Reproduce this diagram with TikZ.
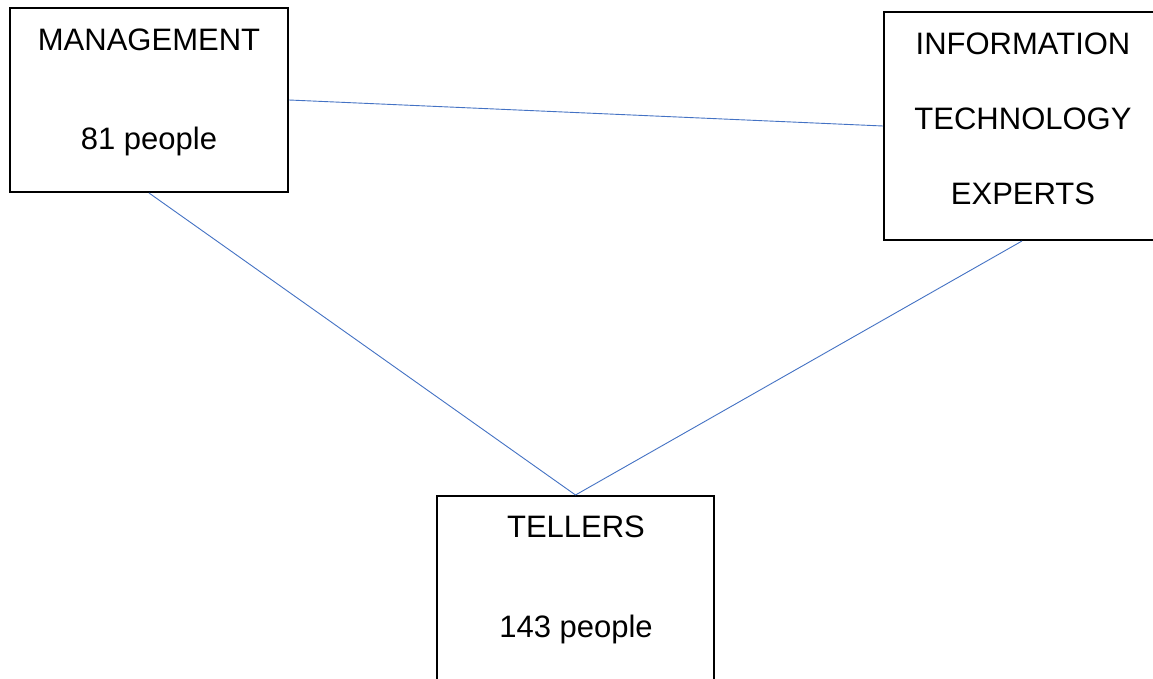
\documentclass[tikz,border=0pt]{standalone}
\usepackage{fontspec}
\setmainfont{Liberation Sans}
\definecolor{linkblue}{RGB}{68,114,196}
\begin{document}
\begin{tikzpicture}[x=1pt,y=-1pt,
  box/.style={draw=black,line width=2pt,rectangle,inner sep=0pt,fill=white},
  lbl/.style={font=\fontsize{31}{36}\selectfont,inner sep=0pt,anchor=center},
  link/.style={draw=linkblue,line width=0.9pt}]
\useasboundingbox (0,0) rectangle (1153,679);
\fill[white] (0,0) rectangle (1153,679);
\begin{scope}
\clip (0,0) rectangle (1153,679);
\node[box,minimum width=278pt,minimum height=184pt] (mgmt) at (149,100) {};
\node[box,minimum width=276pt,minimum height=228pt] (it) at (1022,126) {};
\node[box,minimum width=277pt,minimum height=200pt] (tell) at (575.5,596) {};
\draw[link] (mgmt.east) -- (it.west);
\draw[link] (mgmt.south) -- (tell.north);
\draw[link] (it.south) -- (tell.north);
\end{scope}
\node[lbl] (t1) at (149,40) {MANAGEMENT};
\node[lbl] (t2) at (149,141) {81 people};
\node[lbl] (t3) at (1023,44) {INFORMATION};
\node[lbl] (t4) at (1023,119) {TECHNOLOGY};
\node[lbl] (t5) at (1023,194) {EXPERTS};
\node[lbl] (t6) at (576,527) {TELLERS};
\node[lbl] (t7) at (576,629) {143 people};
\end{tikzpicture}
\end{document}
